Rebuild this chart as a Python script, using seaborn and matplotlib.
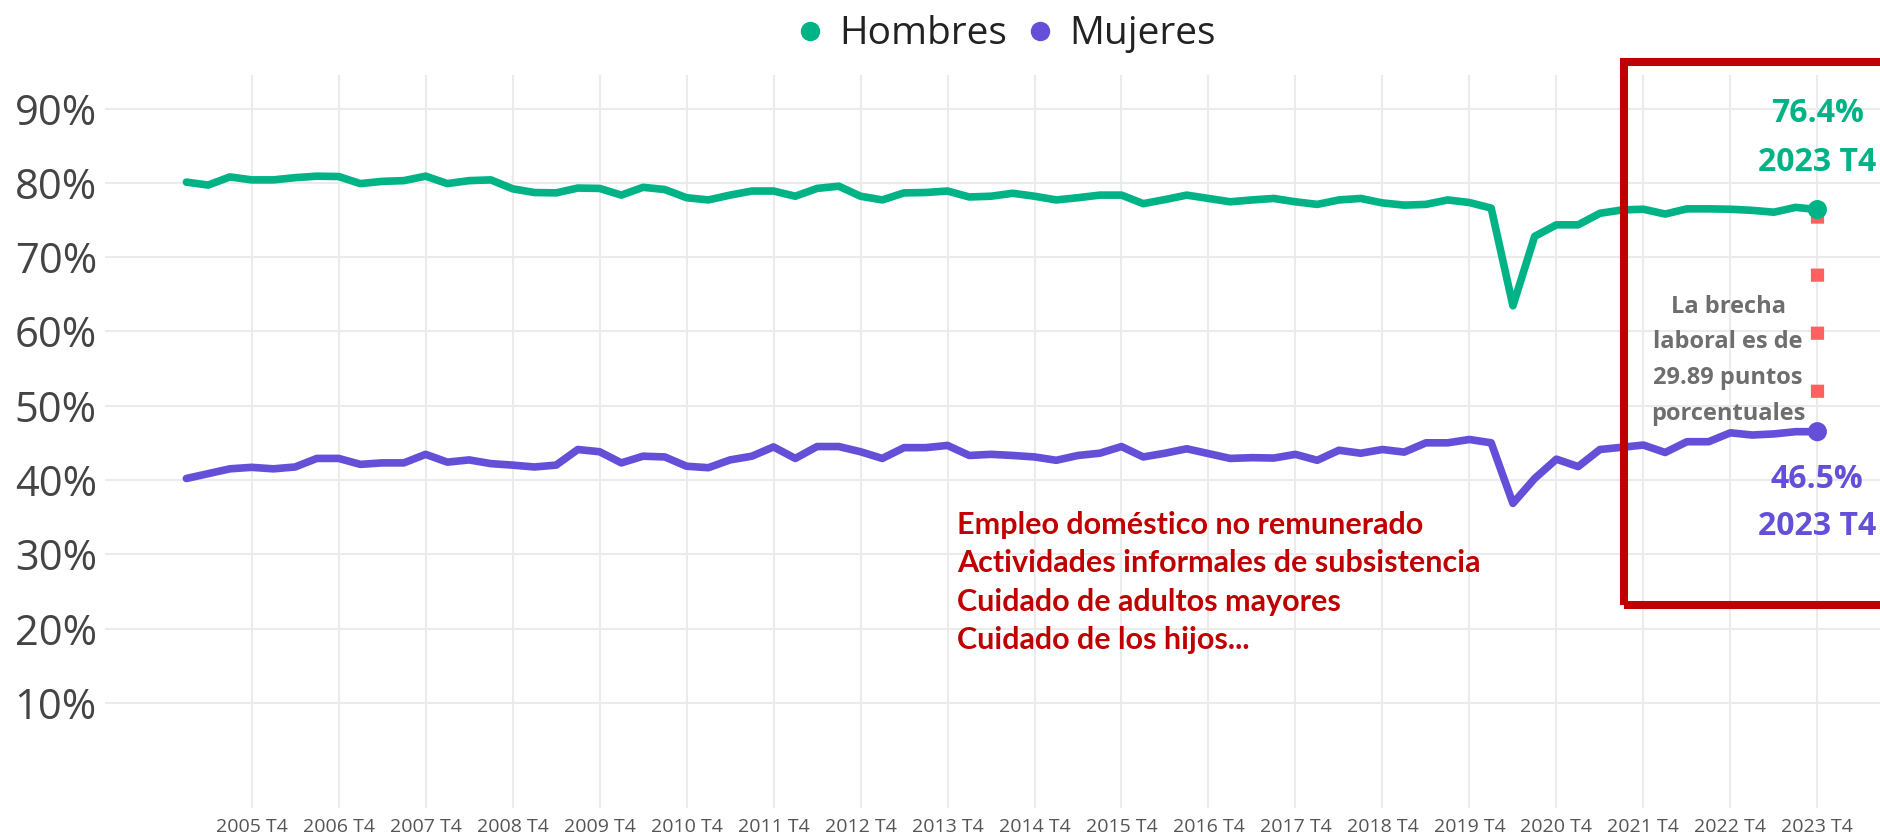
import matplotlib
matplotlib.use("Agg")
import matplotlib.pyplot as plt
import seaborn as sns
import pandas as pd
from matplotlib.lines import Line2D
from matplotlib.patches import Rectangle

# tasa de participación laboral trimestral, 2005 T1 - 2023 T4
years = list(range(2005, 2024))
trimestres = [f"{y} T{q}" for y in years for q in range(1, 5)]
tick_labels = [f"{y} T4" for y in years]

hombres = [80.1, 79.7, 80.8, 80.4, 80.4, 80.7, 80.9, 80.85, 79.9, 80.2,
           80.3, 80.9, 79.9, 80.3, 80.4, 79.2, 78.7, 78.65, 79.3, 79.25,
           78.35, 79.4, 79.1, 78.0, 77.7, 78.35, 78.9, 78.9, 78.2, 79.25,
           79.55, 78.2, 77.7, 78.65, 78.7, 78.9, 78.1, 78.2, 78.6, 78.2,
           77.7, 78.0, 78.35, 78.35, 77.2, 77.75, 78.35, 77.9, 77.45, 77.7,
           77.9, 77.45, 77.1, 77.7, 77.9, 77.3, 77.0, 77.1, 77.7, 77.35,
           76.6, 63.45, 72.8, 74.35, 74.35, 75.9, 76.35, 76.45, 75.8, 76.5,
           76.5, 76.45, 76.3, 76.05, 76.7, 76.4]
mujeres = [40.2, 40.85, 41.5, 41.7, 41.5, 41.75, 42.9, 42.9, 42.1, 42.3,
           42.3, 43.45, 42.4, 42.7, 42.2, 42.0, 41.75, 42.0, 44.1, 43.8,
           42.3, 43.2, 43.1, 41.85, 41.65, 42.7, 43.2, 44.45, 42.9, 44.5,
           44.5, 43.8, 42.9, 44.35, 44.35, 44.65, 43.3, 43.45, 43.3, 43.1,
           42.65, 43.3, 43.6, 44.5, 43.1, 43.6, 44.2, 43.55, 42.9, 43.0,
           42.95, 43.45, 42.65, 44.0, 43.6, 44.1, 43.75, 45.0, 45.0, 45.45,
           45.0, 36.85, 40.2, 42.8, 41.8, 44.1, 44.4, 44.7, 43.7, 45.15,
           45.15, 46.35, 46.05, 46.2, 46.5, 46.5]

verde = "#00B386"
morado = "#6450D8"
rojo = "#C00000"

sns.set_theme(style="whitegrid")
plt.rcParams['font.family'] = ['Open Sans', 'DejaVu Sans']

n = len(trimestres)
df = pd.DataFrame({"idx": list(range(n)) * 2,
                   "tasa": hombres + mujeres,
                   "sexo": ["Hombres"] * n + ["Mujeres"] * n})

fig = plt.figure(figsize=(18.8, 8.35), dpi=100)
ax = fig.add_axes([0.056, 0.032, 0.944, 0.878])

sns.lineplot(data=df, x="idx", y="tasa", hue="sexo", palette=[verde, morado],
             linewidth=5.5, ax=ax, legend=False)
ultimo = df[df["idx"] == n - 1]
sns.scatterplot(data=ultimo, x="idx", y="tasa", hue="sexo", palette=[verde, morado],
                s=190, linewidth=0, ax=ax, legend=False, zorder=5)

# brecha
ax.plot([n - 1, n - 1], [hombres[-1], mujeres[-1]], color="#FF6161", linewidth=9.5,
        linestyle=(0, (1, 3.4)), dash_capstyle="butt", zorder=3)

ax.set_xlim(-3.73, 77.88)
ax.set_ylim(-4.2, 94.5)
ax.set_xticks(range(3, n, 4))
ax.set_xticklabels(tick_labels, fontsize=14, color="#555555")
ax.set_yticks(range(10, 100, 10))
ax.set_yticklabels([f"{v}%" for v in range(10, 100, 10)], fontsize=30, color="#444444")
ax.tick_params(axis="x", length=0, pad=7)
ax.tick_params(axis="y", length=0, pad=6)
ax.grid(color="#EBEBEB", linewidth=1.5)
ax.set_xlabel("")
ax.set_ylabel("")
for s in ax.spines.values():
    s.set_visible(False)

# etiquetas finales
ax.annotate(f"{hombres[-1]}%", (n - 1, hombres[-1]), xytext=(0, 69), textcoords="offset points",
            ha="center", va="center", fontsize=23, fontweight="bold", color=verde, annotation_clip=False)
ax.annotate("2023 T4", (n - 1, hombres[-1]), xytext=(0, 34), textcoords="offset points",
            ha="center", va="center", fontsize=23, fontweight="bold", color=verde, annotation_clip=False)
ax.annotate(f"{mujeres[-1]}%", (n - 1, mujeres[-1]), xytext=(0, -34.5), textcoords="offset points",
            ha="center", va="center", fontsize=23, fontweight="bold", color=morado, annotation_clip=False)
ax.annotate("2023 T4", (n - 1, mujeres[-1]), xytext=(0, -68.5), textcoords="offset points",
            ha="center", va="center", fontsize=23, fontweight="bold", color=morado, annotation_clip=False)

brecha = round(hombres[-1] - mujeres[-1] - 0.01, 2)
ax.text(70.9, 56.1, f"La brecha\nlaboral es de\n{brecha} puntos\nporcentuales",
        ha="center", va="center", multialignment="center", fontsize=17,
        fontweight="bold", color="#6E6E6E", linespacing=1.66)

ax.text(35.45, 26.2, "Empleo doméstico no remunerado\nActividades informales de subsistencia\n"
        "Cuidado de adultos mayores\nCuidado de los hijos...",
        ha="left", va="center", fontsize=22, fontweight="bold", color=rojo,
        family=["Lato", "DejaVu Sans"], linespacing=1.44)

# recuadro rojo
fig.add_artist(Rectangle((1624 / 1880, 1 - 605 / 835), 0.2, (605 - 62) / 835,
                         transform=fig.transFigure, fill=False, edgecolor=rojo,
                         linewidth=5.8, clip_on=False, zorder=10))

handles = [Line2D([0], [0], marker="o", linestyle="", markerfacecolor=c, markeredgewidth=0,
                  markersize=14) for c in (verde, morado)]
fig.legend(handles, ["Hombres", "Mujeres"], loc="center", bbox_to_anchor=(0.535, 0.959),
           ncol=2, frameon=False, fontsize=28, handlelength=0.7, handletextpad=0.4,
           columnspacing=0.5, labelcolor="#222222")

fig.savefig("out.png", dpi=100)
